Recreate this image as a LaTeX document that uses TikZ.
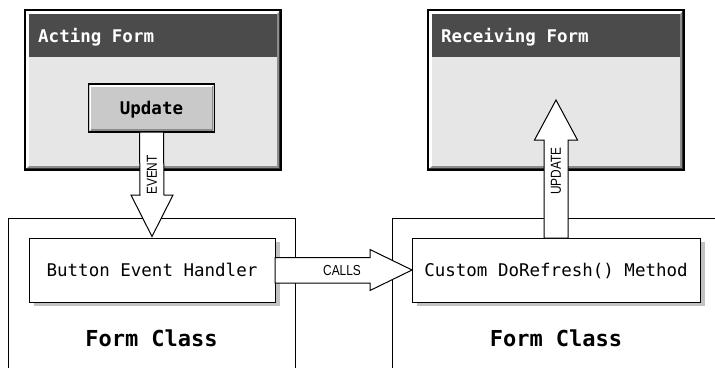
\documentclass[tikz,border=0pt]{standalone}
\usepackage{fontspec}
\newfontfamily\codefont{DejaVu Sans Mono}
\newfontfamily\labelfont{Liberation Sans}
\usetikzlibrary{calc,shadows}
\definecolor{titlebar}{HTML}{4B4B4B}
\definecolor{winbody}{HTML}{E6E6E6}
\definecolor{winband}{HTML}{8C8C8C}
\definecolor{btnfill}{HTML}{C9C9C9}
\definecolor{shadowgray}{HTML}{C2C2C2}
\newcommand\formwindow[3]{%
  \node[winframe] (#1) at (#2) {};
  \fill[winband] (#1.north east) -- (#1.south east) -- (#1.south west)
     -- ([shift={(4,-4)}]#1.south west) -- ([shift={(-4,-4)}]#1.south east)
     -- ([shift={(-4,4)}]#1.north east) -- cycle;
  \fill[winbody] ([shift={(4,4)}]#1.north west) rectangle ([shift={(-4,-4)}]#1.south east);
  \fill[titlebar] ([shift={(4,4)}]#1.north west) rectangle ([shift={(-4,47)}]#1.north east);
  \draw[line width=1.2pt] (#1.north west) rectangle (#1.south east);
  \draw[line width=1pt,black!80] ([shift={(-1.4,1)}]#1.north east) -- ([shift={(-1.4,-1.4)}]#1.south east) -- ([shift={(1,-1.4)}]#1.south west);
  \node[wintitle] (#1-title) at ([shift={(13,32)}]#1.north west) {#3};
}
\begin{document}
\begin{tikzpicture}[x=1pt,y=-1pt,
  winframe/.style={draw=black, line width=1.2pt, fill=white, minimum width=256pt, minimum height=160pt, inner sep=0pt, outer sep=0pt},
  wintitle/.style={text=white, font=\codefont\bfseries\fontsize{17.5}{20}\selectfont, inner sep=0pt, anchor=base west},
  button/.style={draw=black, line width=1.2pt, fill=btnfill, minimum width=126pt, minimum height=48pt, inner sep=0pt, outer sep=0pt, text depth=0pt, font=\codefont\bfseries\fontsize{17.5}{20}\selectfont},
  codebox/.style={draw=black, line width=1pt, fill=white, minimum height=64pt, inner sep=0pt, outer sep=0pt, text depth=0pt, font=\codefont\fontsize{17.5}{20}\selectfont, drop shadow={shadow xshift=5pt, shadow yshift=-4pt, fill=shadowgray, opacity=1}},
  classframe/.style={draw=black, line width=1pt},
  classtitle/.style={font=\codefont\bfseries\fontsize{22}{26}\selectfont, inner sep=0pt, anchor=base},
  blockarrow/.style={draw=black, line width=1pt, fill=white, line join=miter},
  arrowlabel/.style={font=\labelfont\fontsize{14.5}{17}\selectfont, inner sep=0pt},
]
\useasboundingbox (0,0) rectangle (715,367);

% form class frames (open at the bottom / right)
\draw[classframe] (8,368) -- (8,218) -- (295,218) -- (295,368);
\draw[classframe] (392,368) -- (392,218) -- (716,218);

% windows
\formwindow{act}{153,90}{Acting Form}
\formwindow{rcv}{556,90}{Receiving Form}

% button
\node[button] (upd) at (151.5,108) {Update};
\draw[white, line width=1.5pt] ([shift={(2,-2)}]upd.south west) -- ([shift={(2,2)}]upd.north west) -- ([shift={(-2,2)}]upd.north east);
\draw[winband, line width=1.5pt] ([shift={(2,-2)}]upd.south west) -- ([shift={(-2,-2)}]upd.south east) -- ([shift={(-2,2)}]upd.north east);

% method boxes
\node[codebox, minimum width=246pt] (hdl) at (152,270) {Button Event Handler};
\node[codebox, minimum width=288pt] (rfs) at (556,270) {Custom DoRefresh() Method};

% class titles
\node[classtitle] (lcls) at (151.5,346) {Form Class};
\node[classtitle] (rcls) at (556,346) {Form Class};

% EVENT arrow
\draw[blockarrow] ([shift={(-12,0)}]upd.south) -- ([shift={(-12,-43)}]hdl.north)
  -- ([shift={(-21,-43)}]hdl.north) -- ([shift={(0,-1.5)}]hdl.north)
  -- ([shift={(21,-43)}]hdl.north) -- ([shift={(12,-43)}]hdl.north)
  -- ([shift={(12,0)}]upd.south) -- cycle;
\node[arrowlabel, rotate=90] (evl) at (152,175) {\scalebox{0.82}[1]{EVENT}};

% CALLS arrow
\draw[blockarrow] ([shift={(0,-12.5)}]hdl.east) -- ([shift={(-42,-12.5)}]rfs.west)
  -- ([shift={(-42,-20.5)}]rfs.west) -- (rfs.west)
  -- ([shift={(-42,20.5)}]rfs.west) -- ([shift={(-42,13)}]rfs.west)
  -- ([shift={(0,13)}]hdl.east) -- cycle;
\node[arrowlabel] (cll) at (342,271) {\scalebox{0.82}[1]{CALLS}};

% UPDATE arrow
\coordinate (updtip) at (556,100);
\draw[blockarrow] ([shift={(-12,0)}]rfs.north) -- ([shift={(-12,40)}]updtip)
  -- ([shift={(-21.5,40)}]updtip) -- (updtip)
  -- ([shift={(21.5,40)}]updtip) -- ([shift={(12,40)}]updtip)
  -- ([shift={(12,0)}]rfs.north) -- cycle;
\node[arrowlabel, rotate=90] (upl) at (556,171) {\scalebox{0.82}[1]{UPDATE}};
\end{tikzpicture}
\end{document}
